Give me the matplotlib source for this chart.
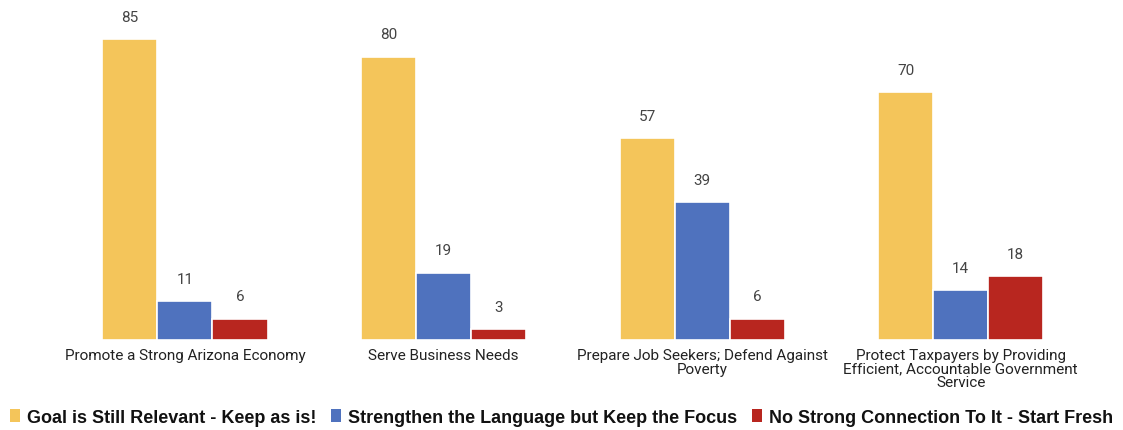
import matplotlib
matplotlib.use("Agg")
import matplotlib.pyplot as plt
import numpy as np
from matplotlib.patches import Patch

categories = [
    "Promote a Strong Arizona Economy",
    "Serve Business Needs",
    "Prepare Job Seekers; Defend Against\nPoverty",
    "Protect Taxpayers by Providing\nEfficient, Accountable Government\nService",
]
series_names = [
    "Goal is Still Relevant - Keep as is!",
    "Strengthen the Language but Keep the Focus",
    "No Strong Connection To It - Start Fresh",
]
keep_values = [85, 80, 57, 70]
strengthen_values = [11, 19, 39, 14]
fresh_values = [6, 3, 6, 18]

colors = ["#F4C55A", "#4F72BE", "#B8261F"]

fig = plt.figure(figsize=(11.23, 4.31), dpi=100)
ax = fig.add_axes([0.0496, 0.2088, 0.9210, 0.7394])

x = np.arange(len(categories))
width = 0.2128
series = [keep_values, strengthen_values, fresh_values]
for i, (vals, col) in enumerate(zip(series, colors)):
    pos = x + (i - 1) * width
    bars = ax.bar(pos, vals, width=width, color=col, edgecolor="white",
                  linewidth=1.2, zorder=2)
    for b, v in zip(bars, vals):
        ax.annotate(str(v), (b.get_x() + b.get_width() / 2, v),
                    xytext=(0, 11), textcoords="offset points",
                    ha="center", va="bottom", fontsize=11,
                    color="#444444", family="Roboto")

ax.set_xlim(-0.5, len(categories) - 0.5)
ax.set_ylim(0, 90)
ax.set_yticks([])
ax.set_xticks(x)
ax.set_xticklabels(categories, fontsize=11, color="#222222",
                   family="Roboto", linespacing=0.95)
ax.tick_params(axis="x", length=0, pad=6)
for s in ax.spines.values():
    s.set_visible(False)

handles = [Patch(facecolor=c, edgecolor="none") for c in colors]
leg = fig.legend(handles, series_names, loc="center", ncol=3,
                 bbox_to_anchor=(0.5, 0.03), frameon=False,
                 handlelength=0.55, handleheight=0.75, handletextpad=0.4,
                 columnspacing=0.8,
                 prop={"family": ["Liberation Sans Narrow", "Liberation Sans"],
                       "weight": "bold", "size": 13})
for t in leg.get_texts():
    t.set_color("#111111")

fig.savefig("out.png", dpi=100)
